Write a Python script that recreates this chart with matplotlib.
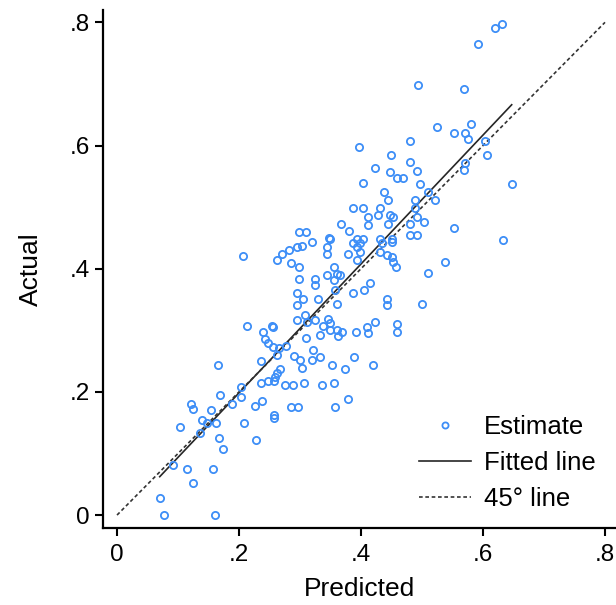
import numpy as np
import matplotlib
matplotlib.use("Agg")
import matplotlib.pyplot as plt

plt.rcParams['font.family'] = ['Liberation Sans', 'DejaVu Sans']

# Estimated (predicted, actual) pairs
predicted = [
    0.169, 0.122, 0.125, 0.154, 0.139, 0.147, 0.163, 0.103, 0.136, 0.167,
    0.174, 0.092, 0.115, 0.157, 0.125, 0.070, 0.077, 0.161, 0.203, 0.204,
    0.188, 0.226, 0.237, 0.208, 0.228, 0.258, 0.258, 0.286, 0.297, 0.236,
    0.248, 0.258, 0.275, 0.289, 0.307, 0.336, 0.357, 0.378, 0.355,
    0.207, 0.263, 0.270, 0.282, 0.295, 0.303, 0.319, 0.345, 0.345, 0.378,
    0.387, 0.393, 0.286, 0.299, 0.299, 0.325, 0.325, 0.345, 0.355, 0.360,
    0.366, 0.355, 0.357, 0.387, 0.295, 0.305, 0.295, 0.330, 0.360, 0.308,
    0.295, 0.311, 0.325, 0.346, 0.349, 0.338, 0.349, 0.360, 0.368, 0.362,
    0.392, 0.333, 0.310, 0.213, 0.240, 0.254, 0.256, 0.243, 0.248, 0.256,
    0.277, 0.266, 0.262, 0.322, 0.333, 0.319, 0.290, 0.300, 0.304, 0.389,
    0.353, 0.373, 0.236, 0.267, 0.262, 0.259, 0.166, 0.419, 0.409, 0.412,
    0.423, 0.459, 0.459,
    0.398, 0.398, 0.393, 0.450, 0.434, 0.442, 0.450, 0.453, 0.457, 0.431,
    0.538, 0.510, 0.415, 0.405, 0.442, 0.442, 0.500,
    0.524, 0.581, 0.553, 0.570, 0.575, 0.603, 0.397, 0.481, 0.449, 0.423,
    0.448, 0.480, 0.491, 0.459, 0.469, 0.404, 0.496, 0.438, 0.445, 0.510,
    0.521, 0.489, 0.570, 0.569, 0.606, 0.387, 0.403, 0.431, 0.428, 0.412,
    0.412, 0.448, 0.453, 0.445, 0.489, 0.491, 0.504, 0.367, 0.381, 0.552,
    0.480, 0.492, 0.393, 0.404, 0.431, 0.450, 0.349,
    0.620, 0.631, 0.591, 0.569, 0.494, 0.647, 0.633, 0.481, 0.299, 0.310,
    0.348,
]
actual = [
    0.195, 0.181, 0.172, 0.170, 0.154, 0.150, 0.150, 0.143, 0.133, 0.125,
    0.108, 0.081, 0.074, 0.074, 0.052, 0.028, 0.000, 0.000, 0.208, 0.191,
    0.180, 0.177, 0.185, 0.150, 0.122, 0.163, 0.158, 0.175, 0.175, 0.215,
    0.218, 0.218, 0.211, 0.211, 0.215, 0.211, 0.176, 0.189, 0.214,
    0.420, 0.414, 0.424, 0.430, 0.435, 0.437, 0.444, 0.435, 0.424, 0.424,
    0.442, 0.436, 0.410, 0.403, 0.384, 0.384, 0.373, 0.390, 0.403, 0.392,
    0.390, 0.381, 0.366, 0.360, 0.361, 0.350, 0.341, 0.350, 0.342, 0.325,
    0.317, 0.314, 0.317, 0.318, 0.312, 0.307, 0.301, 0.300, 0.298, 0.291,
    0.298, 0.292, 0.288, 0.307, 0.298, 0.307, 0.305, 0.286, 0.279, 0.273,
    0.274, 0.271, 0.260, 0.268, 0.257, 0.251, 0.258, 0.252, 0.239, 0.257,
    0.243, 0.237, 0.250, 0.237, 0.230, 0.224, 0.243, 0.243, 0.306, 0.295,
    0.314, 0.311, 0.298,
    0.442, 0.427, 0.414, 0.444, 0.441, 0.422, 0.419, 0.411, 0.403, 0.427,
    0.411, 0.393, 0.376, 0.365, 0.350, 0.341, 0.342,
    0.630, 0.635, 0.620, 0.620, 0.610, 0.608, 0.598, 0.608, 0.584, 0.563,
    0.557, 0.574, 0.559, 0.547, 0.547, 0.539, 0.537, 0.525, 0.511, 0.525,
    0.511, 0.511, 0.572, 0.560, 0.584, 0.498, 0.498, 0.499, 0.487, 0.484,
    0.471, 0.487, 0.484, 0.473, 0.498, 0.484, 0.476, 0.473, 0.461, 0.466,
    0.455, 0.455, 0.449, 0.449, 0.449, 0.449, 0.449,
    0.791, 0.797, 0.765, 0.692, 0.698, 0.537, 0.446, 0.473, 0.459, 0.459,
    0.450,
]

ticks = [0, 0.2, 0.4, 0.6, 0.8]
tick_labels = ["0", ".2", ".4", ".6", ".8"]
legend_labels = ["Estimate", "Fitted line", "45\u00b0 line"]

x = np.array(predicted)
y = np.array(actual)

fig = plt.figure(figsize=(6.16, 6.05), dpi=100)
ax = fig.add_axes([103 / 616, 1 - 528 / 605, (616 - 103) / 616, (528 - 10) / 605])

blue = '#3d8ef7'
ax.plot(x, y, linestyle='none', marker='o', markersize=5.2,
        markerfacecolor='none', markeredgecolor=blue, markeredgewidth=1.3,
        label=legend_labels[0], zorder=3)

slope, intercept = np.polyfit(x, y, 1)
xf = np.array([x.min(), x.max()])
ax.plot(xf, intercept + slope * xf, color='#262626', linewidth=1.2,
        label=legend_labels[1], zorder=2)

ax.plot([0, 0.8], [0, 0.8], color='#333333', linewidth=1.2,
        linestyle=(0, (2.2, 1.6)), label=legend_labels[2], zorder=2)

ax.set_xlim(-0.023, 0.818)
ax.set_ylim(-0.021, 0.820)

ax.set_xticks(ticks)
ax.set_xticklabels(tick_labels)
ax.set_yticks(ticks)
ax.set_yticklabels(tick_labels)

for side in ['top', 'right']:
    ax.spines[side].set_visible(False)
for side in ['left', 'bottom']:
    ax.spines[side].set_linewidth(1.6)
    ax.spines[side].set_color('black')

ax.tick_params(axis='both', direction='out', length=5.5, width=1.5,
               labelsize=17.5, colors='black')
ax.tick_params(axis='x', pad=6)
ax.tick_params(axis='y', pad=4)

ax.set_xlabel("Predicted", fontsize=19, labelpad=8)
ax.set_ylabel("Actual", fontsize=19, labelpad=19)

leg = ax.legend(loc='lower right', bbox_to_anchor=(0.99, 0.003), frameon=False,
                fontsize=18.5, handlelength=2.0, handletextpad=0.5,
                labelspacing=0.46, markerscale=0.85, borderaxespad=0.2)

fig.savefig("out.png", dpi=100)
